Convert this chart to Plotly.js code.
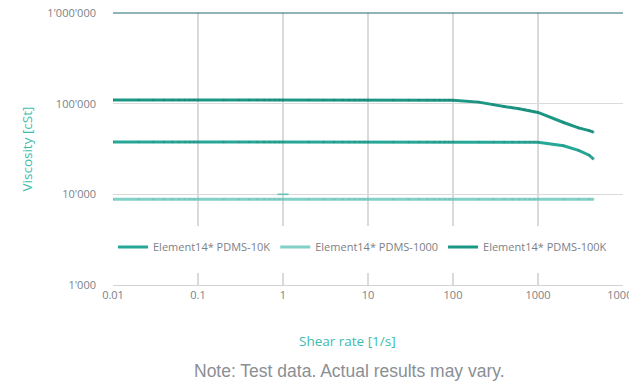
<!DOCTYPE html>
<html>
<head>
<meta charset="utf-8">
<script src="https://cdn.plot.ly/plotly-3.0.1.min.js"></script>
<style>html,body{margin:0;padding:0;background:#fff;overflow:hidden;}#chart{width:629px;height:389px;}</style>
</head>
<body>
<div id="chart"></div>
<script>
// Shear rate [1/s]
var shearRate = [0.01,0.02,0.03,0.04,0.05,0.06,0.07,0.08,0.09,
  0.1,0.2,0.3,0.4,0.5,0.6,0.7,0.8,0.9,
  1,2,3,4,5,6,7,8,9,
  10,20,30,40,50,60,70,80,90,
  100,200,300,400,500,600,700,800,900,
  1000,2000,3000,4000,4500];

// Viscosity [cSt]
var viscPDMS10K = [37800,37800,37800,37800,37800,37800,37800,37800,37800,
  37800,37800,37800,37800,37800,37800,37800,37800,37800,
  37800,37800,37800,37800,37800,37800,37800,37800,37800,
  37800,37800,37800,37800,37800,37800,37800,37800,37800,
  37800,37800,37800,37800,37800,37800,37800,37800,37700,
  37500,34300,30500,27000,24500];

var viscPDMS1000 = [8800,8800,8800,8800,8800,8800,8800,8800,8800,
  8800,8800,8800,8800,8800,8800,8800,8800,8800,
  8800,8800,8800,8800,8800,8800,8800,8800,8800,
  8800,8800,8800,8800,8800,8800,8800,8800,8800,
  8800,8800,8800,8800,8800,8800,8800,8800,8800,
  8800,8800,8800,8800,8800];

var viscPDMS100K = [110000,110000,110000,110000,110000,110000,110000,110000,110000,
  110000,110000,110000,110000,110000,110000,110000,110000,110000,
  110000,110000,110000,110000,110000,110000,110000,110000,110000,
  110000,110000,110000,110000,110000,110000,110000,110000,110000,
  109000,104000,97000,93000,90000,88000,85500,83500,81500,
  80000,62000,54000,50500,48500];

var strayX = [1, 1];
var strayY = [10000, 1000];

var seriesNames = ["Element14* PDMS-10K", "Element14* PDMS-1000", "Element14* PDMS-100K"];
var seriesColors = ["#27a897", "#82d1c8", "#1b9784"];
var beadColors = ["rgba(60,110,105,0.35)", "rgba(120,150,150,0.25)", "rgba(50,100,95,0.35)"];

var xTickVals = [0.01, 0.1, 1, 10, 100, 1000, 10000];
var xTickText = ["0.01", "0.1", "1", "10", "100", "1000", "10000"];
var yTickVals = [1000, 10000, 100000, 1000000];
var yTickText = ["1'000", "10'000", "100'000", "1'000'000"];

var FONT = "Open Sans, Noto Sans, sans-serif";
var TEAL_TITLE = "#3dbcad";
var GREY_TXT = "#7c8187";

var seriesY = [viscPDMS10K, viscPDMS1000, viscPDMS100K];
var traces = [];
for (var i = 0; i < 3; i++) {
  traces.push({x: shearRate, y: seriesY[i], name: seriesNames[i], type: "scatter", mode: "lines",
    line: {color: seriesColors[i], width: 3}, legendrank: i + 1});
}
// subtle data-point beads along each line
for (var j = 0; j < 3; j++) {
  traces.push({x: shearRate, y: seriesY[j], type: "scatter", mode: "markers", showlegend: false,
    marker: {size: 2.5, color: beadColors[j]}});
}
traces.push({x: strayX, y: strayY, type: "scatter", mode: "markers", showlegend: false, cliponaxis: false,
   marker: {symbol: "line-ew", size: 8, line: {color: "#5cc2b6", width: 1.5}}});

var layout = {
  width: 629, height: 389,
  margin: {l: 113, r: 6, t: 13, b: 104},
  paper_bgcolor: "#fff", plot_bgcolor: "#fff",
  font: {family: FONT, size: 11, color: GREY_TXT},
  showlegend: true,
  legend: {orientation: "h", x: 0, xanchor: "left", y: 0.14, yanchor: "middle",
           bgcolor: "rgba(255,255,255,0)", font: {family: FONT, size: 11, color: GREY_TXT},
           traceorder: "normal"},
  xaxis: {type: "log", range: [-2, 4], tickvals: xTickVals, ticktext: xTickText,
          showgrid: true, gridcolor: "#dadada", gridwidth: 1.2, zeroline: false,
          showline: true, linecolor: "#d3d3d3", linewidth: 1.2, ticks: "",
          ticklabeloverflow: "allow",
          tickfont: {family: FONT, size: 11, color: GREY_TXT}},
  yaxis: {type: "log", range: [3, 6], tickvals: yTickVals, ticktext: yTickText,
          showgrid: true, gridcolor: "#dadada", gridwidth: 1.2, zeroline: false,
          showline: false, ticks: "", ticklabelstandoff: 16,
          tickfont: {family: FONT, size: 11, color: GREY_TXT},
          title: {text: "Viscosity [cSt]", font: {family: FONT, size: 13.5, color: TEAL_TITLE}, standoff: 11}},
  shapes: [
    {type: "rect", xref: "paper", yref: "paper", x0: -0.03, x1: 1.03, y0: 0.044, y1: 0.217,
     fillcolor: "#ffffff", line: {width: 0}, layer: "above"},
    {type: "line", xref: "paper", yref: "paper", x0: 0, x1: 1, y0: 1, y1: 1,
     line: {color: "#1f6b70", width: 1.2}, layer: "above"}
  ],
  annotations: [
    {text: "Shear rate [1/s]", xref: "paper", yref: "paper",
     x: 0.459, y: -0.206, xanchor: "center", yanchor: "middle", showarrow: false,
     font: {family: FONT, size: 13.5, color: TEAL_TITLE}},
    {text: "Note: Test data. Actual results may vary.", xref: "paper", yref: "paper",
     x: 0.463, y: -0.316, xanchor: "center", yanchor: "middle", showarrow: false,
     font: {family: "Liberation Sans, Arial, sans-serif", size: 17.5, color: "#8a8f95"}}
  ]
};

Plotly.newPlot("chart", traces, layout, {displayModeBar: false, staticPlot: true});
</script>
</body>
</html>
